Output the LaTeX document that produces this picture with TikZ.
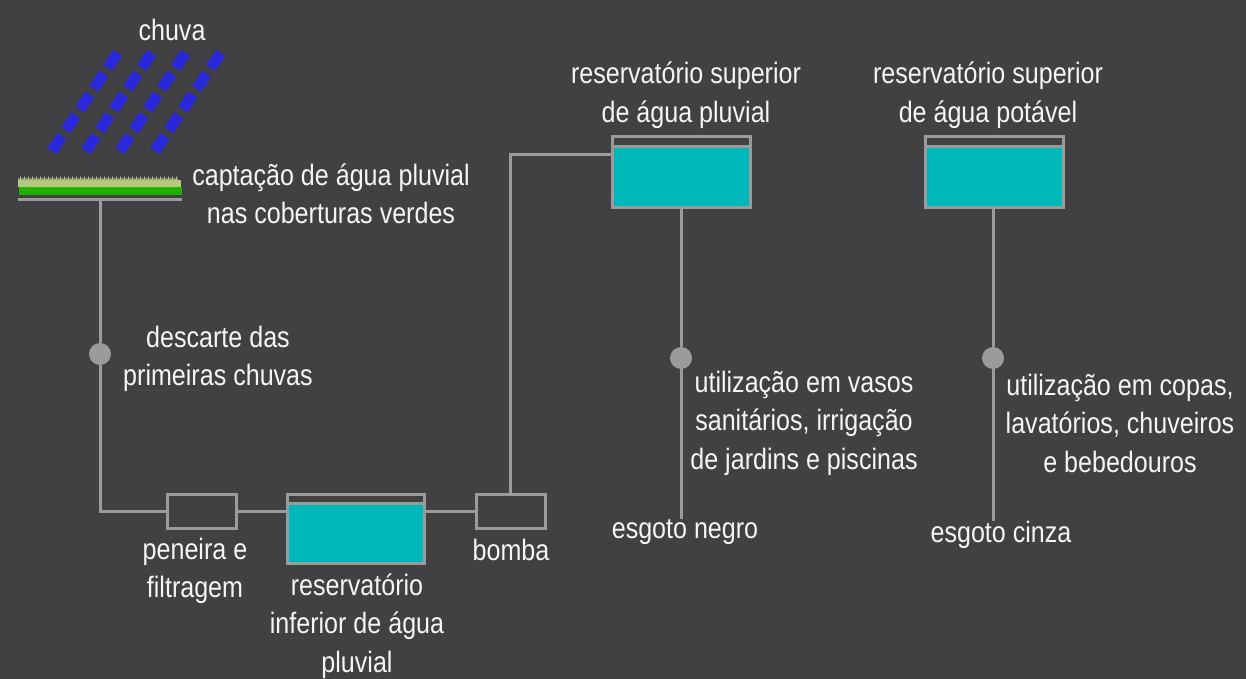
\documentclass[tikz,border=0pt]{standalone}
\usepackage{fontspec}
\setmainfont{Liberation Sans}[FakeStretch=0.85]
\usepackage{xcolor}
\usetikzlibrary{positioning}
\definecolor{fundo}{RGB}{65, 65, 67}
\definecolor{cano}{RGB}{155, 155, 155}
\definecolor{agua}{RGB}{0, 184, 186}
\definecolor{texto}{RGB}{245, 245, 245}
\definecolor{gota}{RGB}{40, 40, 218}
\definecolor{verde}{RGB}{34, 176, 0}
\definecolor{grama}{RGB}{180, 200, 128}

\tikzset{
  rotulo/.style={text=texto, font=\fontsize{29.5}{38.5}\selectfont, align=center, inner sep=0pt},
  tubo/.style={draw=cano, line width=3pt},
  caixa/.style={draw=cano, line width=3pt, minimum width=69pt, minimum height=34pt},
  tanque/.style={draw=cano, line width=3pt, fill=agua, minimum width=137pt, minimum height=69pt,
    path picture={
      \fill[fundo] (path picture bounding box.north west) rectangle ([yshift=-9.5pt]path picture bounding box.north east);
      \draw[cano, line width=3pt] ([yshift=-9.5pt]path picture bounding box.north west) -- ([yshift=-9.5pt]path picture bounding box.north east);
    }},
  ponto/.style={circle, fill=cano, minimum size=22pt, inner sep=0pt},
  chuva/.style={draw=gota, line width=11pt, dash pattern=on 18pt off 7pt}
}

\begin{document}
\begin{tikzpicture}[x=1pt, y=-1pt]
  \fill[fundo] (0,0) rectangle (1246,679);
  \useasboundingbox (0,0) rectangle (1246,679);

  % Chuva
  \foreach \x in {52,86,120,155}
    \draw[chuva] (\x,151) -- ++(67,-100);
  \node[rotulo] (lchuva) at (172,30) {chuva};

  % Cobertura verde
  \node[fill=verde, minimum width=163pt, minimum height=8pt, inner sep=0pt] (telhado) at (100,191) {};
  \fill[grama] (18,179.5) rectangle (181,187);
  \foreach \x in {18,22,...,176}
    \fill[grama] (\x,187) -- (\x+0.5,177.5) -- (\x+1.5,180) -- (\x+2.5,176) -- (\x+3.5,179) -- (\x+4.5,187) -- cycle;
  \draw[tubo] ([yshift=-4pt]telhado.south west) -- ([yshift=-4pt]telhado.south east);
  \node[rotulo] (lcaptacao) at (331,194) {captação de água pluvial\\nas coberturas verdes};

  % Reservatorio inferior
  \node[ponto] (descarte) at (100,354) {};
  \node[caixa] (peneira) at (201.5,511) {};
  \node[tanque] (inferior) at (355.5,528.5) {};
  \node[caixa] (bomba) at (510.5,511) {};
  \node[rotulo] (ldescarte) at (218,359) {descarte das\\primeiras chuvas};
  \node[rotulo] (lpeneira) at (195,571) {peneira e\\filtragem};
  \node[rotulo] (linferior) at (357,626) {reservatório\\inferior de água\\pluvial};
  \node[rotulo] (lbomba) at (511,550) {bomba};

  % Reservatorios superiores
  \node[tanque, minimum width=138pt, minimum height=70pt] (pluvial) at (681,172) {};
  \node[tanque, minimum width=138pt, minimum height=70pt] (potavel) at (994,172) {};
  \coordinate (entrada) at (612,155);
  \node[ponto] (uso1) at (681,358) {};
  \node[ponto] (uso2) at (993,358) {};
  \node[rotulo] (lpluvial) at (686,95) {reservatório superior\\de água pluvial};
  \node[rotulo] (lpotavel) at (988,95) {reservatório superior\\de água potável};
  \node[rotulo] (luso1) at (804,423) {utilização em vasos\\sanitários, irrigação\\de jardins e piscinas};
  \node[rotulo] (luso2) at (1120,423) {utilização em copas,\\lavatórios, chuveiros\\e bebedouros};
  \node[rotulo] (negro) at (685,532) {esgoto negro};
  \node[rotulo] (cinza) at (1001,535) {esgoto cinza};

  % Tubulacao
  \draw[tubo] ([yshift=-4pt]telhado.south) -- (descarte) |- (peneira.west);
  \draw[tubo] (peneira.east) -- (peneira.east -| inferior.west);
  \draw[tubo] (bomba.west -| inferior.east) -- (bomba.west);
  \draw[tubo] (bomba.north) |- (entrada);
  \draw[tubo] (pluvial.south) -- (uso1) -- (uso1 |- negro.north);
  \draw[tubo] (uso2 |- potavel.south) -- (uso2) -- (uso2 |- cinza.north);
\end{tikzpicture}
\end{document}
